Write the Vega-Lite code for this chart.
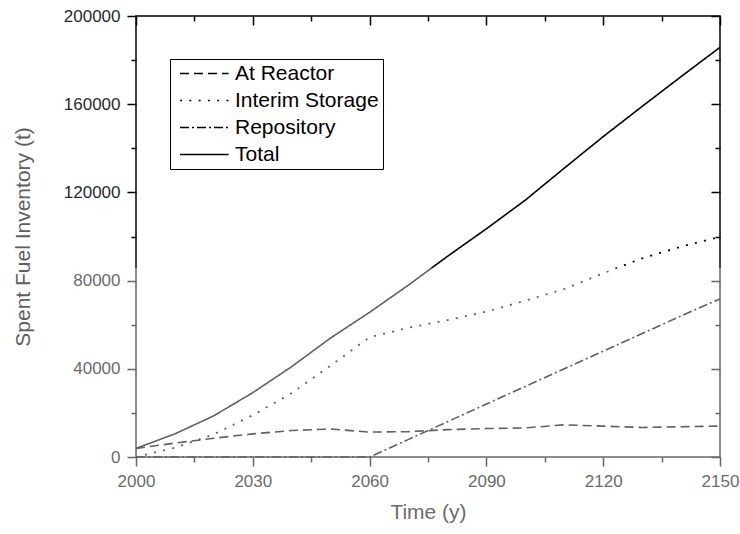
{
  "$schema": "https://vega.github.io/schema/vega-lite/v6.json",
  "width": 584,
  "height": 441,
  "autosize": {"type": "none"},
  "padding": {"left": 136, "top": 16, "right": 20, "bottom": 77},
  "background": "white",
  "config": {
    "font": "Liberation Sans",
    "view": {
      "stroke": {"gradient": "linear", "x1": 0, "y1": 0, "x2": 0, "y2": 1,
        "stops": [{"offset": 0, "color": "#000000"}, {"offset": 0.571, "color": "#000000"}, {"offset": 0.571, "color": "#666666"}, {"offset": 1, "color": "#666666"}]},
      "strokeWidth": 1.5
    },
    "axis": {"grid": false, "domain": false, "labelFont": "Liberation Sans", "titleFont": "Liberation Sans", "titleFontWeight": "normal", "labelOverlap": false, "labelFlush": false}
  },
  "data": {
    "values": [
      {"year": 2000, "series": "Total", "value": 3900},
      {"year": 2010, "series": "Total", "value": 10500},
      {"year": 2020, "series": "Total", "value": 18700},
      {"year": 2030, "series": "Total", "value": 29200},
      {"year": 2040, "series": "Total", "value": 41000},
      {"year": 2050, "series": "Total", "value": 54000},
      {"year": 2060, "series": "Total", "value": 65600},
      {"year": 2070, "series": "Total", "value": 78000},
      {"year": 2080, "series": "Total", "value": 91000},
      {"year": 2090, "series": "Total", "value": 103500},
      {"year": 2100, "series": "Total", "value": 116500},
      {"year": 2110, "series": "Total", "value": 131000},
      {"year": 2120, "series": "Total", "value": 145300},
      {"year": 2130, "series": "Total", "value": 159000},
      {"year": 2140, "series": "Total", "value": 172500},
      {"year": 2150, "series": "Total", "value": 185800},
      {"year": 2000, "series": "Interim Storage", "value": 0},
      {"year": 2010, "series": "Interim Storage", "value": 4200},
      {"year": 2020, "series": "Interim Storage", "value": 10300},
      {"year": 2030, "series": "Interim Storage", "value": 19000},
      {"year": 2040, "series": "Interim Storage", "value": 29000},
      {"year": 2050, "series": "Interim Storage", "value": 41500},
      {"year": 2060, "series": "Interim Storage", "value": 54300},
      {"year": 2070, "series": "Interim Storage", "value": 58600},
      {"year": 2080, "series": "Interim Storage", "value": 62100},
      {"year": 2090, "series": "Interim Storage", "value": 65900},
      {"year": 2100, "series": "Interim Storage", "value": 70900},
      {"year": 2110, "series": "Interim Storage", "value": 76200},
      {"year": 2120, "series": "Interim Storage", "value": 83300},
      {"year": 2130, "series": "Interim Storage", "value": 90100},
      {"year": 2140, "series": "Interim Storage", "value": 95400},
      {"year": 2150, "series": "Interim Storage", "value": 99900},
      {"year": 2000, "series": "At Reactor", "value": 3900},
      {"year": 2010, "series": "At Reactor", "value": 6300},
      {"year": 2020, "series": "At Reactor", "value": 8500},
      {"year": 2030, "series": "At Reactor", "value": 10500},
      {"year": 2040, "series": "At Reactor", "value": 12000},
      {"year": 2050, "series": "At Reactor", "value": 12700},
      {"year": 2060, "series": "At Reactor", "value": 11300},
      {"year": 2070, "series": "At Reactor", "value": 11500},
      {"year": 2080, "series": "At Reactor", "value": 12400},
      {"year": 2090, "series": "At Reactor", "value": 12900},
      {"year": 2100, "series": "At Reactor", "value": 13200},
      {"year": 2110, "series": "At Reactor", "value": 14600},
      {"year": 2120, "series": "At Reactor", "value": 14000},
      {"year": 2130, "series": "At Reactor", "value": 13400},
      {"year": 2140, "series": "At Reactor", "value": 13700},
      {"year": 2150, "series": "At Reactor", "value": 14000},
      {"year": 2000, "series": "Repository", "value": 0},
      {"year": 2010, "series": "Repository", "value": 0},
      {"year": 2020, "series": "Repository", "value": 0},
      {"year": 2030, "series": "Repository", "value": 0},
      {"year": 2040, "series": "Repository", "value": 0},
      {"year": 2050, "series": "Repository", "value": 0},
      {"year": 2060, "series": "Repository", "value": 0},
      {"year": 2070, "series": "Repository", "value": 8000},
      {"year": 2080, "series": "Repository", "value": 16000},
      {"year": 2090, "series": "Repository", "value": 24000},
      {"year": 2100, "series": "Repository", "value": 32000},
      {"year": 2110, "series": "Repository", "value": 40000},
      {"year": 2120, "series": "Repository", "value": 48000},
      {"year": 2130, "series": "Repository", "value": 56000},
      {"year": 2140, "series": "Repository", "value": 64000},
      {"year": 2150, "series": "Repository", "value": 71700}
    ]
  },
  "layer": [
    {
      "transform": [{"filter": "datum.series === 'Total'"}],
      "mark": {"type": "line", "strokeWidth": 1.6,
        "stroke": {"gradient": "linear", "x1": 0, "y1": 0, "x2": 0, "y2": 1,
          "stops": [{"offset": 0, "color": "#000000"}, {"offset": 0.55, "color": "#000000"}, {"offset": 0.55, "color": "#606060"}, {"offset": 1, "color": "#606060"}]}},
      "encoding": {
        "x": {"field": "year", "type": "quantitative",
          "scale": {"domain": [2000, 2150], "nice": false, "zero": false},
          "axis": {"orient": "bottom", "title": "Time (y)",
            "values": [2000, 2015, 2030, 2045, 2060, 2075, 2090, 2105, 2120, 2135, 2150],
            "format": "d",
            "labelExpr": "(datum.value - 2000) % 30 === 0 ? datum.label : ''",
            "tickSize": {"condition": {"test": "(datum.value - 2000) % 30 === 0", "value": 9}, "value": 5},
            "tickColor": "#666666", "tickWidth": 1.5,
            "labelColor": "#6b6b6b", "labelFontSize": 17, "labelPadding": 7,
            "titleFontSize": 21, "titleColor": "#6b6b6b", "titlePadding": 12}},
        "y": {"field": "value", "type": "quantitative",
          "scale": {"domain": [0, 200000], "nice": false},
          "axis": {"orient": "left", "title": "Spent Fuel Inventory (t)",
            "values": [0, 20000, 40000, 60000, 80000, 100000, 120000, 140000, 160000, 180000, 200000],
            "format": "d",
            "labelExpr": "datum.value % 40000 === 0 ? datum.label : ''",
            "tickSize": {"condition": {"test": "datum.value % 40000 === 0", "value": 9}, "value": 5},
            "tickColor": {"condition": {"test": "datum.value > 90000", "value": "#000000"}, "value": "#666666"},
            "tickWidth": 1.5,
            "labelColor": {"condition": {"test": "datum.value > 90000", "value": "#2a2a2a"}, "value": "#6b6b6b"},
            "labelFontSize": 17, "labelPadding": 7,
            "titleFontSize": 21, "titleColor": "#5e5e5e", "titlePadding": 30}},
        "strokeDash": {"field": "series", "type": "nominal",
          "scale": {"domain": ["At Reactor", "Interim Storage", "Repository", "Total"],
            "range": [[9, 5], [2, 7.3], [9, 3, 2, 3], [1, 0]]},
          "legend": {"orient": "none", "legendX": 34, "legendY": 43, "title": null,
            "symbolType": "M-0.5,0H4.9", "symbolSize": 324, "symbolStrokeWidth": 1.5,
            "symbolStrokeColor": "#000000", "symbolFillColor": "transparent",
            "labelFontSize": 21, "labelColor": "#000000", "labelFont": "Liberation Sans",
            "labelOffset": 40, "rowPadding": 5, "padding": 4,
            "strokeColor": "#000000", "fillColor": "white",
            "encode": {"symbols": {"update": {"stroke": {"value": "#000000"}, "fill": {"value": "transparent"}}}}}}
      }
    },
    {
      "transform": [{"filter": "datum.series === 'Interim Storage'"}],
      "mark": {"type": "line", "strokeWidth": 1.8,
        "stroke": {"gradient": "linear", "x1": 0, "y1": 0, "x2": 0, "y2": 1,
          "stops": [{"offset": 0, "color": "#000000"}, {"offset": 0.142, "color": "#000000"}, {"offset": 0.142, "color": "#606060"}, {"offset": 1, "color": "#606060"}]}},
      "encoding": {
        "x": {"field": "year", "type": "quantitative",
          "axis": {"orient": "top", "title": null, "labels": false,
            "values": [2000, 2015, 2030, 2045, 2060, 2075, 2090, 2105, 2120, 2135, 2150],
            "tickSize": {"condition": {"test": "(datum.value - 2000) % 30 === 0", "value": -9}, "value": -5},
            "tickColor": "#000000", "tickWidth": 1.5}},
        "y": {"field": "value", "type": "quantitative",
          "axis": {"orient": "right", "title": null, "labels": false,
            "values": [0, 20000, 40000, 60000, 80000, 100000, 120000, 140000, 160000, 180000, 200000],
            "tickSize": {"condition": {"test": "datum.value % 40000 === 0", "value": -9}, "value": -5},
            "tickColor": {"condition": {"test": "datum.value > 90000", "value": "#000000"}, "value": "#666666"},
            "tickWidth": 1.5}},
        "strokeDash": {"field": "series", "type": "nominal"}
      }
    },
    {
      "transform": [{"filter": "datum.series === 'At Reactor'"}],
      "mark": {"type": "line", "strokeWidth": 1.6, "stroke": "#606060"},
      "encoding": {
        "x": {"field": "year", "type": "quantitative", "axis": null},
        "y": {"field": "value", "type": "quantitative", "axis": null},
        "strokeDash": {"field": "series", "type": "nominal"}
      }
    },
    {
      "transform": [{"filter": "datum.series === 'Repository'"}],
      "mark": {"type": "line", "strokeWidth": 1.6, "stroke": "#606060"},
      "encoding": {
        "x": {"field": "year", "type": "quantitative", "axis": null},
        "y": {"field": "value", "type": "quantitative", "axis": null},
        "strokeDash": {"field": "series", "type": "nominal"}
      }
    }
  ],
  "resolve": {"axis": {"x": "independent", "y": "independent"}}
}
